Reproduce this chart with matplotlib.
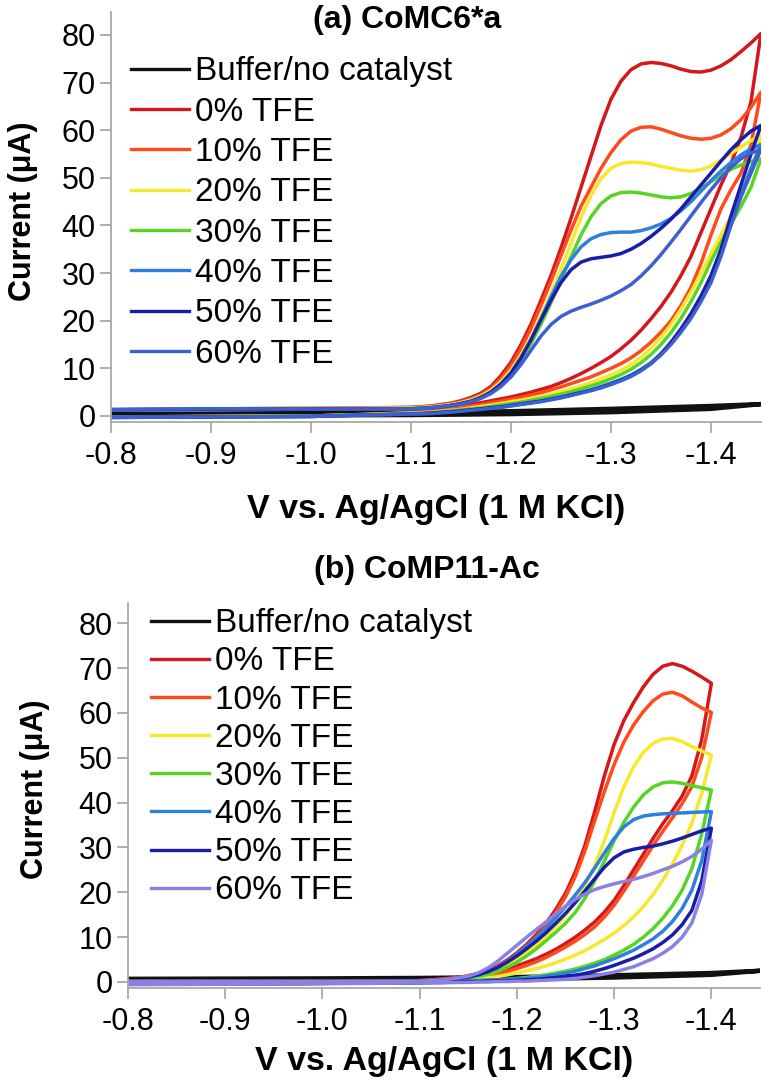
import matplotlib
matplotlib.use("Agg")
import matplotlib.pyplot as plt

plt.rcParams['font.family'] = ['Liberation Sans', 'DejaVu Sans']
plt.rcParams['axes.unicode_minus'] = False

labels = ["Buffer/no catalyst", "0% TFE", "10% TFE", "20% TFE", "30% TFE",
          "40% TFE", "50% TFE", "60% TFE"]
colors_a = ["#111111", "#d4171b", "#ff4a1c", "#f6e92c", "#58d424", "#2d80dc", "#1a1ea6", "#3c5fd2"]
colors_b = ["#111111", "#d4171b", "#ff4a1c", "#f6e92c", "#58d424", "#2d80dc", "#1a1ea6", "#8b80e4"]

# ---- panel (a) CoMC6*a : potential grid (V), forward / reverse sweep currents (uA) ----
a_v = [-0.80, -0.90, -1.00, -1.05, -1.10, -1.12, -1.14, -1.15, -1.16, -1.17, -1.18, -1.19,
       -1.20, -1.21, -1.22, -1.23, -1.24, -1.25, -1.26, -1.27, -1.28, -1.29, -1.30, -1.31,
       -1.32, -1.33, -1.34, -1.35, -1.36, -1.37, -1.38, -1.39, -1.40, -1.41, -1.42, -1.43,
       -1.44, -1.45]
a0_fwd = [1.3, 1.5, 1.6, 1.7, 1.8, 2.1, 2.7, 3.2, 3.9, 4.8, 6.2, 8.5, 11.3, 15, 19.3, 24.3, 29.5,
          35.3, 41.5, 48, 54.5, 61, 66.5, 70.3, 72.7, 73.9, 74.2, 74, 73.5, 72.8, 72.3, 72.2,
          72.6, 73.5, 74.8, 76.5, 78.3, 80.3]
a0_rev = [-0.2, -0.1, 0.0, 0.3, 0.8, 1.2, 1.8, 2.1, 2.5, 2.8, 3.2, 3.6, 4.0, 4.5, 5.0, 5.6, 6.2,
          7.0, 7.9, 8.9, 10.0, 11.2, 12.5, 14.1, 15.9, 18.0, 20.4, 23, 26, 29.5, 33.5, 38.5,
          43.5, 48.5, 53, 58.5, 66, 80.3]
a10_fwd = [1.3, 1.5, 1.6, 1.7, 1.8, 2.0, 2.6, 3.0, 3.6, 4.5, 5.8, 7.9, 10.6, 14.2, 18.4, 23.2,
           28.3, 33.7, 39, 44, 48, 52, 55.3, 58, 59.8, 60.6, 60.7, 60.2, 59.5, 58.8, 58.3, 58.1,
           58.3, 59, 60.3, 62.2, 64.8, 68]
a10_rev = [-0.2, -0.1, 0.0, 0.3, 0.7, 1.0, 1.5, 1.8, 2.1, 2.4, 2.8, 3.1, 3.5, 3.9, 4.4, 4.9, 5.5,
           6.1, 6.8, 7.5, 8.2, 9.1, 10.0, 11.0, 12.2, 13.7, 15.5, 17.6, 20.0, 23.2, 27, 32, 38,
           43.5, 47.5, 51, 57, 68]
a20_fwd = [1.3, 1.5, 1.6, 1.6, 1.7, 1.9, 2.4, 2.8, 3.4, 4.2, 5.4, 7.2, 9.6, 12.8, 16.6, 21, 25.7,
           30.8, 36.2, 41.7, 46.3, 49.8, 52, 53, 53.3, 53.2, 52.9, 52.4, 52, 51.6, 51.4, 51.7,
           52.5, 53.7, 55.1, 56.5, 57.8, 59]
a20_rev = [-0.2, -0.1, 0.0, 0.3, 0.6, 0.8, 1.2, 1.4, 1.7, 2.0, 2.3, 2.6, 3.0, 3.3, 3.7, 4.1, 4.6,
           5.1, 5.7, 6.3, 7.0, 7.8, 8.6, 9.6, 10.8, 12.3, 14.2, 16.5, 19.2, 22.4, 26, 30, 34, 38,
           42, 46, 51, 59]
a30_fwd = [1.3, 1.4, 1.5, 1.5, 1.6, 1.8, 2.3, 2.6, 3.1, 3.9, 5.0, 6.6, 8.8, 11.7, 15.2, 19.3,
           23.8, 28.6, 33.4, 38, 41.8, 44.6, 46.2, 46.9, 47, 46.8, 46.4, 46, 45.8, 46, 46.7, 47.8,
           49.2, 50.6, 51.8, 52.7, 53.4, 54]
a30_rev = [-0.2, -0.1, 0.0, 0.2, 0.5, 0.7, 1.1, 1.3, 1.5, 1.7, 2.0, 2.3, 2.6, 2.9, 3.3, 3.7, 4.1,
           4.6, 5.1, 5.7, 6.3, 7.0, 7.8, 8.7, 9.8, 11.2, 12.9, 15, 17.5, 20.5, 24, 28, 32.5, 36.5,
           40.3, 44, 48, 54]
a40_fwd = [1.3, 1.4, 1.5, 1.5, 1.5, 1.7, 2.2, 2.6, 3.1, 3.9, 5.0, 6.7, 9.0, 12.2, 16.0, 20.4, 25,
           29.3, 32.8, 35.5, 37.2, 38.1, 38.5, 38.6, 38.6, 38.9, 39.5, 40.3, 41.5, 43.1, 45,
           47.2, 49.4, 51.4, 53.2, 54.8, 56.1, 57]
a40_rev = [-0.3, -0.2, -0.1, 0.2, 0.4, 0.6, 0.9, 1.1, 1.3, 1.5, 1.8, 2.0, 2.3, 2.6, 2.9, 3.2,
           3.6, 4.0, 4.5, 5.0, 5.5, 6.2, 6.9, 7.7, 8.6, 9.8, 11.2, 13.1, 15.3, 18, 21, 24.5,
           28.7, 34, 40.5, 46.5, 52, 57]
a50_fwd = [1.3, 1.4, 1.5, 1.5, 1.5, 1.7, 2.2, 2.6, 3.1, 3.9, 5.0, 6.7, 9.0, 12.2, 16.0, 20.2,
           24.3, 28, 30.7, 32.3, 33, 33.3, 33.6, 34.1, 35, 36.2, 37.7, 39.4, 41.3, 43.5, 46,
           48.5, 51, 53.5, 55.9, 58, 59.8, 61]
a50_rev = [-0.3, -0.2, -0.1, 0.2, 0.4, 0.6, 0.9, 1.1, 1.3, 1.5, 1.7, 1.9, 2.2, 2.5, 2.8, 3.1,
           3.5, 3.9, 4.4, 4.9, 5.4, 6.0, 6.7, 7.5, 8.4, 9.6, 11, 13, 15.5, 18.3, 21.5, 25.2,
           29.5, 35, 42, 48.5, 55, 61]
a60_fwd = [1.4, 1.5, 1.5, 1.5, 1.5, 1.7, 2.2, 2.5, 3.0, 3.7, 4.7, 6.2, 8.2, 10.8, 13.8, 16.8,
           19.2, 20.9, 22, 22.8, 23.5, 24.3, 25.2, 26.3, 27.6, 29.4, 31.5, 33.9, 36.5, 39.2, 42,
           44.8, 47.5, 50, 52.2, 54, 55.2, 56]
a60_rev = [-0.3, -0.2, -0.1, 0.2, 0.4, 0.5, 0.8, 1.0, 1.2, 1.4, 1.6, 1.8, 2.1, 2.4, 2.7, 3.0,
           3.4, 3.8, 4.3, 4.8, 5.3, 5.9, 6.6, 7.4, 8.3, 9.5, 11, 12.8, 15, 17.6, 20.5, 24, 28,
           33.5, 40, 46, 51, 56]
a_buf_v = [-0.80, -0.90, -1.00, -1.10, -1.20, -1.30, -1.40, -1.45]
a_buf_fwd = [0.4, 0.5, 0.6, 0.7, 1.0, 1.5, 2.1, 2.5]
a_buf_rev = [0.0, 0.1, 0.15, 0.2, 0.4, 0.8, 1.5, 2.5]

# ---- panel (b) CoMP11-Ac ----
b_v = [-0.80, -0.90, -1.00, -1.05, -1.10, -1.12, -1.14, -1.15, -1.16, -1.17, -1.18, -1.19,
       -1.20, -1.21, -1.22, -1.23, -1.24, -1.25, -1.26, -1.27, -1.28, -1.29, -1.30, -1.31,
       -1.32, -1.33, -1.34, -1.35, -1.36, -1.37, -1.38, -1.39, -1.40]
b0_fwd = [0.1, 0.1, 0.1, 0.2, 0.3, 0.6, 1.0, 1.4, 1.9, 2.6, 3.6, 4.9, 6.5, 8.4, 10.6, 13.1, 16.2,
          19.8, 24.5, 30.5, 38, 46, 53, 58.3, 62.3, 65.8, 68.6, 70.4, 71.0, 70.4, 69.3, 68.0, 66.6]
b0_rev = [-0.5, -0.4, -0.3, -0.2, 0.0, 0.2, 0.5, 0.8, 1.1, 1.6, 2.2, 2.9, 3.6, 4.4, 5.2, 6.2, 7.3,
          8.6, 10, 11.6, 13.4, 15.6, 18.2, 21.5, 25, 28.5, 32, 35.3, 38.2, 41.5, 46, 54, 66.6]
b10_fwd = [0.1, 0.1, 0.1, 0.2, 0.3, 0.6, 1.0, 1.3, 1.8, 2.5, 3.4, 4.6, 6.1, 7.9, 10, 12.5, 15.5,
           19, 23.5, 29.3, 36, 42.5, 48.5, 53.5, 57.3, 60.3, 62.7, 64.2, 64.6, 63.8, 62.4, 61.1, 60.1]
b10_rev = [-0.5, -0.4, -0.3, -0.2, 0.0, 0.1, 0.4, 0.6, 0.9, 1.3, 1.8, 2.4, 3.0, 3.7, 4.5, 5.5, 6.6,
           7.8, 9.1, 10.6, 12.3, 14.5, 17.1, 20.3, 23.6, 27, 30.4, 33.6, 36.6, 39.8, 43.6, 50, 60.1]
b20_fwd = [0.1, 0.1, 0.1, 0.1, 0.2, 0.4, 0.7, 0.9, 1.2, 1.7, 2.4, 3.6, 5.0, 6.5, 8.2, 10.1, 12.3,
           14.8, 17.8, 21.5, 26, 31.5, 37.8, 43.5, 48, 51.2, 53.2, 54.2, 54.3, 53.6, 52.5, 51.5, 50.6]
b20_rev = [-0.5, -0.4, -0.3, -0.2, -0.1, 0.1, 0.3, 0.4, 0.6, 0.9, 1.2, 1.6, 2.0, 2.5, 3.0, 3.6,
           4.3, 5.1, 6.0, 7.0, 8.2, 9.5, 10.9, 12.6, 14.5, 16.8, 19.5, 22.7, 26.3, 30.5, 35.5, 42, 50.6]
b30_fwd = [0.1, 0.1, 0.1, 0.1, 0.2, 0.4, 0.7, 0.9, 1.2, 1.7, 2.4, 3.3, 4.4, 5.8, 7.4, 9.2, 11.1,
           13.1, 15.5, 18.7, 22.5, 27, 31.5, 35.6, 39, 41.7, 43.5, 44.4, 44.6, 44.3, 43.8, 43.3, 42.8]
b30_rev = [-0.5, -0.4, -0.3, -0.2, -0.1, 0.0, 0.1, 0.2, 0.3, 0.4, 0.5, 0.6, 0.8, 1.0, 1.3, 1.6,
           2.0, 2.4, 2.9, 3.5, 4.2, 5.0, 6.0, 7.1, 8.4, 10.0, 11.9, 14.2, 17, 20.5, 25.3, 33, 42.8]
b40_fwd = [0.1, 0.1, 0.1, 0.1, 0.2, 0.4, 0.8, 1.1, 1.6, 2.3, 3.3, 4.6, 6.2, 8.0, 9.9, 12, 14.3,
           16.8, 19.4, 22.2, 25.4, 28.8, 32, 34.6, 36.2, 37, 37.3, 37.5, 37.6, 37.7, 37.8, 37.9, 38]
b40_rev = [-0.5, -0.4, -0.3, -0.2, -0.1, 0.0, 0.1, 0.2, 0.3, 0.4, 0.5, 0.6, 0.7, 0.8, 1.0, 1.3,
           1.6, 2.0, 2.4, 3.0, 3.6, 4.4, 5.2, 6.1, 7.1, 8.3, 9.6, 11.3, 13.5, 16.4, 20.5, 27, 38]
b50_fwd = [0.1, 0.1, 0.1, 0.1, 0.2, 0.4, 0.8, 1.1, 1.6, 2.3, 3.2, 4.4, 5.8, 7.4, 9.1, 11, 13.1,
           15.3, 17.7, 20.3, 23, 25.6, 27.7, 29, 29.6, 30, 30.3, 30.8, 31.4, 32.1, 32.9, 33.7, 34.3]
b50_rev = [-0.5, -0.4, -0.3, -0.2, -0.2, -0.1, 0.0, 0.1, 0.1, 0.2, 0.3, 0.3, 0.4, 0.5, 0.6, 0.8,
           1.0, 1.2, 1.5, 1.9, 2.4, 3.0, 3.7, 4.5, 5.3, 6.3, 7.4, 8.8, 10.5, 12.8, 16, 22.5, 34.3]
b60_fwd = [0.1, 0.1, 0.1, 0.1, 0.2, 0.4, 0.9, 1.3, 2.0, 3.1, 4.6, 6.4, 8.2, 10, 11.7, 13.4, 15.2,
           16.9, 18.4, 19.6, 20.6, 21.3, 21.9, 22.4, 22.9, 23.5, 24.2, 25, 25.8, 26.8, 28, 29.6, 31.6]
b60_rev = [-0.6, -0.5, -0.4, -0.3, -0.2, -0.2, -0.1, -0.1, 0.0, 0.0, 0.1, 0.1, 0.2, 0.2, 0.3, 0.4,
           0.5, 0.6, 0.8, 1.1, 1.4, 1.8, 2.2, 2.8, 3.4, 4.3, 5.2, 6.4, 7.9, 10, 13.2, 19.5, 31.6]
b_buf_v = [-0.80, -0.90, -1.00, -1.10, -1.20, -1.30, -1.40, -1.45]
b_buf_fwd = [0.7, 0.75, 0.8, 0.9, 1.1, 1.5, 2.0, 2.5]
b_buf_rev = [0.3, 0.3, 0.35, 0.4, 0.6, 1.0, 1.6, 2.5]

x_ticks = [-0.8, -0.9, -1.0, -1.1, -1.2, -1.3, -1.4]
y_ticks = [0, 10, 20, 30, 40, 50, 60, 70, 80]
GRAY = "#a8a8a8"


def draw_panel(ax, v, curves, buf_v, buf_fwd, buf_rev, colors, title, title_xy, ylim,
               leg_anchor, leg_spacing, xlab_y, ylab_x):
    ax.plot(buf_v + buf_v[::-1], buf_fwd + buf_rev[::-1], color=colors[0], lw=3.2,
            label=labels[0], solid_joinstyle='round')
    for (fwd, rev), lab, col in zip(curves, labels[1:], colors[1:]):
        ax.plot(v + v[::-1], fwd + rev[::-1], color=col, lw=2.5, label=lab,
                solid_joinstyle='round')

    ax.set_xlim(-0.8, -1.45)
    ax.set_ylim(*ylim)
    ax.set_xticks(x_ticks)
    ax.set_xticklabels([f"{t:.1f}" for t in x_ticks])
    ax.set_yticks(y_ticks)
    for s in ["top", "right"]:
        ax.spines[s].set_visible(False)
    for s in ["left", "bottom"]:
        ax.spines[s].set_color(GRAY)
        ax.spines[s].set_linewidth(1.3)
    ax.tick_params(direction='out', length=8, width=1.3, color=GRAY, labelsize=22)
    ax.tick_params(axis='x', pad=6)
    ax.tick_params(axis='y', pad=3)
    ax.set_xlabel("V vs. Ag/AgCl (1 M KCl)", fontsize=24.5, fontweight='bold')
    ax.xaxis.set_label_coords(0.5, xlab_y)
    ax.set_ylabel("Current (\u03bcA)", fontsize=22, fontweight='bold')
    ax.yaxis.set_label_coords(ylab_x, 0.515)
    ax.text(title_xy[0], title_xy[1], title, transform=ax.transAxes, fontsize=23,
            fontweight='bold', ha='center', va='center')

    leg = ax.legend(loc='upper left', bbox_to_anchor=leg_anchor, frameon=False, fontsize=24,
                    handlelength=1.74, handletextpad=0.2, labelspacing=leg_spacing,
                    borderpad=0, borderaxespad=0)
    for line in leg.get_lines():
        line.set_linewidth(2.4)


fig = plt.figure(figsize=(7.67, 10.82), dpi=100)
ax_a = fig.add_axes([111 / 767, 1 - 422 / 1082, 650 / 767, 410 / 1082])
ax_b = fig.add_axes([128 / 767, 1 - 988 / 1082, 632 / 767, 385 / 1082])

curves_a = [(a0_fwd, a0_rev), (a10_fwd, a10_rev), (a20_fwd, a20_rev), (a30_fwd, a30_rev),
            (a40_fwd, a40_rev), (a50_fwd, a50_rev), (a60_fwd, a60_rev)]
curves_b = [(b0_fwd, b0_rev), (b10_fwd, b10_rev), (b20_fwd, b20_rev), (b30_fwd, b30_rev),
            (b40_fwd, b40_rev), (b50_fwd, b50_rev), (b60_fwd, b60_rev)]

draw_panel(ax_a, a_v, curves_a, a_buf_v, a_buf_fwd, a_buf_rev, colors_a, "(a) CoMC6*a",
           (0.455, 0.98), (-1.26, 84.8), (0.03, 0.892), 0.28, -0.175, -0.112)
draw_panel(ax_b, b_v, curves_b, b_buf_v, b_buf_fwd, b_buf_rev, colors_b, "(b) CoMP11-Ac",
           (0.473, 1.085), (-1.34, 84.5), (0.036, 0.9865), 0.215, -0.15, -0.123)

fig.savefig("out.png", dpi=100)
